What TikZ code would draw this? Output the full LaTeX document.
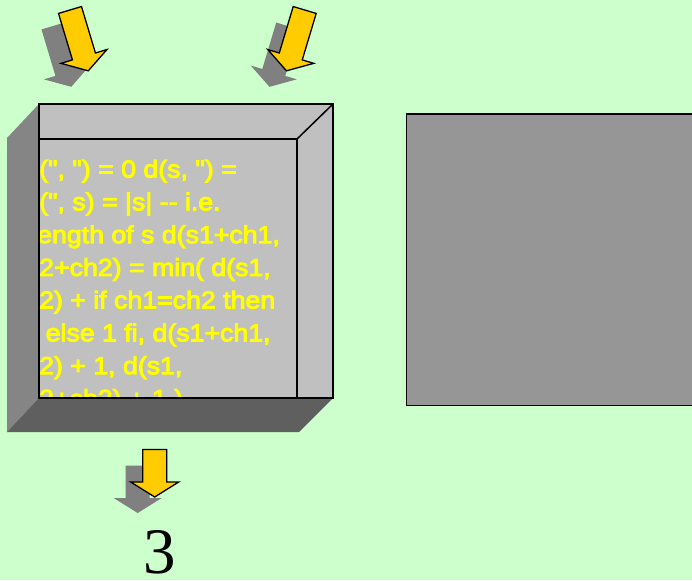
\documentclass[tikz,border=0pt]{standalone}
\usepackage{fontspec}
\usepackage{xcolor}
\usepackage{tikz}
\newfontfamily\codefont{Liberation Sans}[Ligatures=NoCommon, FakeStretch=1.09, FakeBold=4]
\newfontfamily\digitfont{Liberation Serif}

\definecolor{bggreen}{HTML}{CCFFCC}
\definecolor{facegray}{HTML}{C0C0C0}
\definecolor{sidegray}{HTML}{858585}
\definecolor{bottomgray}{HTML}{5F5F5F}
\definecolor{rightgray}{HTML}{969696}
\definecolor{shadowgray}{HTML}{808080}
\definecolor{arrowfill}{HTML}{FFCC00}
\definecolor{textyellow}{HTML}{FFFF00}

\tikzset{
  codeline/.style={anchor=base west, inner sep=0pt, text=textyellow,
    font=\codefont\fontsize{24.5}{30}\selectfont},
  boxline/.style={draw=black, line width=1.5pt}
}

% block arrow with its shadow: top of shaft (#1,#2), tilt #3, length #4
\newcommand{\blockarrow}[4]{%
  \fill[shadowgray, shift={(#1,#2)}, shift={(-17,16)}, rotate=#3]
    (-12,0) -- (12,0) -- (12,#4-15) -- (24,#4-15) -- (0,#4) -- (-24,#4-15) -- (-12,#4-15) -- cycle;
  \filldraw[fill=arrowfill, draw=black, line width=1.3pt, shift={(#1,#2)}, rotate=#3]
    (-12,0) -- (12,0) -- (12,#4-15) -- (24,#4-15) -- (0,#4) -- (-24,#4-15) -- (-12,#4-15) -- cycle;
}

\begin{document}
\begin{tikzpicture}[x=1pt, y=-1pt]
\useasboundingbox (0,0) rectangle (692,580);
\fill[bggreen] (0,0) rectangle (692,580);

% arrows into and out of the box
\blockarrow{70}{10}{16.7}{63.5}
\blockarrow{304.7}{10}{-16.7}{63.5}
\blockarrow{154.7}{449.5}{0}{47.5}

% box: shadow faces, then front face
\fill[sidegray] (7,138) -- (39,104) -- (39,398) -- (7,432) -- cycle;
\fill[bottomgray] (7,432) -- (39,398) -- (333,398) -- (299,432) -- cycle;
\fill[facegray] (39,104) rectangle (333,398);

\begin{scope}
\clip (40,139) rectangle (297,398);
\node[codeline] (line1) at (39,177.5) {(", ") = 0 d(s, ") =};
\node[codeline] (line2) at (39,210.3) {(", s) = |s| -{}- i.e.};
\node[codeline] (line3) at (37,243.1) {ength of s d(s1+ch1,};
\node[codeline] (line4) at (39,275.9) {2+ch2) = min( d(s1,};
\node[codeline] (line5) at (39,308.5) {2) + if ch1=ch2 then};
\node[codeline] (line6) at (45.5,341.3) {else 1 fi, d(s1+ch1,};
\node[codeline] (line7) at (39,374.1) {2) + 1, d(s1,};
\node[codeline] (line8) at (39,406.9) {2+ch2) + 1 )};
\end{scope}

\draw[boxline] (40,139) -- (297,139) -- (297,398);
\draw[boxline] (297,139) -- (333,104);
\draw[draw=black, line width=2pt] (39,104) rectangle (333,398);

% second box, cut by the right edge
\filldraw[fill=rightgray, draw=black, line width=1.6pt] (406.5,114) rectangle (700,405.5);

\node[font=\digitfont\fontsize{65}{65}\selectfont, inner sep=0pt, anchor=base] (result) at (159.5,573) {3};
\end{tikzpicture}
\end{document}
